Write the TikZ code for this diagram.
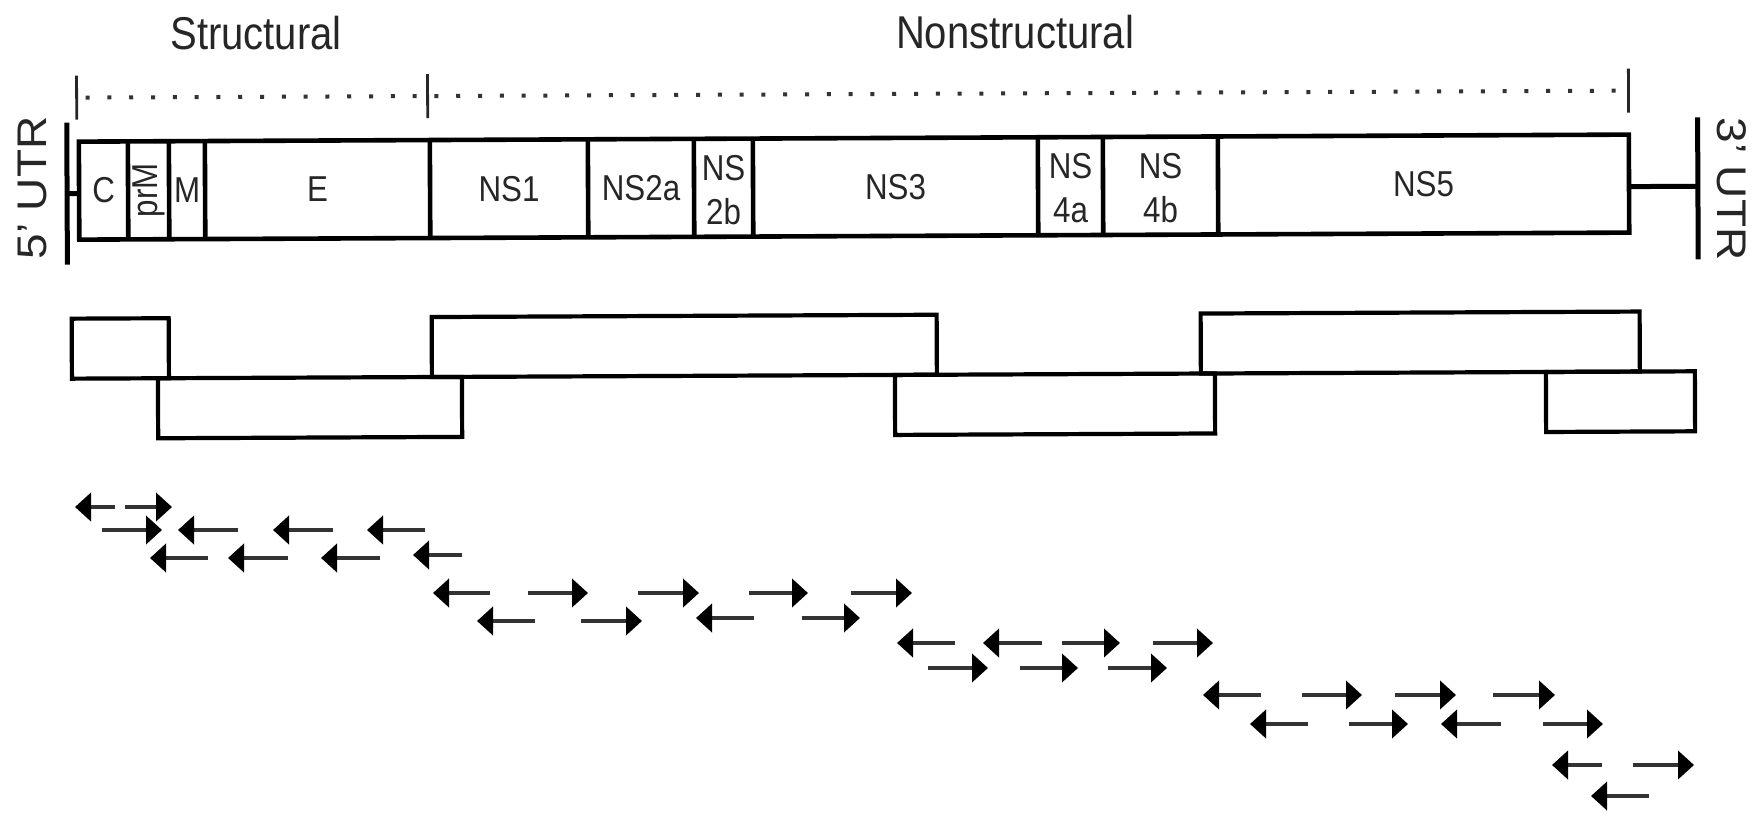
\documentclass[tikz,border=0pt]{standalone}
\usepackage{fontspec}
\setmainfont{Liberation Sans}[FakeStretch=0.87]
\newfontfamily\plainsans{Liberation Sans}
\usetikzlibrary{arrows.meta}
\tikzset{
  seg/.style={draw=black, line width=2.3pt},
  lbl/.style={font=\fontsize{18}{22}\selectfont, text=black!85, inner sep=0pt, align=center},
  big/.style={font=\fontsize{23}{26}\selectfont, text=black!85, inner sep=0pt},
  utr/.style={font=\plainsans\fontsize{23}{26}\selectfont, text=black!85, inner sep=0pt},
  utrbar/.style={draw=black, line width=2.5pt},
  orf/.style={draw=black, line width=2.1pt},
  prl/.style={line width=2pt, draw=black!80, -{Triangle[length=8pt,width=14pt,color=black]}},
  tickline/.style={draw=black!85, line width=1.4pt},
  dotline/.style={draw=black!80, line width=2pt, dash pattern=on 2pt off 8.9pt, dash phase=-4.5pt},
}
\begin{document}
\begin{tikzpicture}[x=0.5pt,y=-0.5pt]
\useasboundingbox (0,0) rectangle (1763,813);
\begin{scope}[rotate around={0.26:(880,400)}]
  % header
  \coordinate (tL) at (78,94);
  \coordinate (tM) at (429,94);
  \coordinate (tR) at (1630,94);
  \draw[dotline] (tL) -- (tR);
  \draw[tickline] ([yshift=11pt]tL) -- ([yshift=-11pt]tL);
  \draw[tickline] ([yshift=11pt]tM) -- ([yshift=-11pt]tM);
  \draw[tickline] ([yshift=11pt]tR) -- ([yshift=-11pt]tR);
  % genome box
  \draw[seg] (80,138) rectangle (1630,236);
  \foreach \x in {129,170,206,431,589,695,754,1039,1104,1219}
    \draw[seg] (\x,138) -- (\x,236);
  \node[lbl] (C) at (104.5,187) {C};
  \node[lbl, rotate=90] (prM) at (149.5,187) {prM};
  \node[lbl] (M) at (188,187) {M};
  \node[lbl] (E) at (318.5,187) {E};
  \node[lbl] (NS1) at (510,187) {NS1};
  \node[lbl] (NS2a) at (642,187) {NS2a};
  \node[lbl] (NS2b) at (724.5,189) {NS\\2b};
  \node[lbl] (NS3) at (896.5,187) {NS3};
  \node[lbl] (NS4a) at (1071.5,189) {NS\\4a};
  \node[lbl] (NS4b) at (1161.5,189) {NS\\4b};
  \node[lbl] (NS5) at (1424.5,187) {NS5};
  % UTRs
  \coordinate (u5a) at (68,119);
  \coordinate (u5b) at (68,261);
  \coordinate (u5s) at (68,190);
  \coordinate (b5s) at (80,190);
  \draw[utrbar] (u5a) -- (u5b);
  \draw[utrbar] (u5s) -- (b5s);
  \coordinate (u3a) at (1699,121);
  \coordinate (u3b) at (1699,263);
  \coordinate (u3s) at (1699,190);
  \coordinate (b3s) at (1630,190);
  \draw[utrbar] (u3a) -- (u3b);
  \draw[utrbar] (b3s) -- (u3s);
  % ORF blocks
  \draw[orf] (72,315) rectangle (169,375);
  \draw[orf] (432,315) rectangle (937,375);
  \draw[orf] (1201,315) rectangle (1640,375);
  \draw[orf] (158,375) rectangle (462,435);
  \draw[orf] (895,375) rectangle (1215,435);
  \draw[orf] (1546,375) rectangle (1695,435);
\end{scope}
\node[big] (structural) at (256,33) {Structural};
\node[big] (nonstructural) at (1015,32) {Nonstructural};
\node[utr, rotate=90] (utr5) at (32,188) {\scalebox{1}[0.9]{5’ UTR}};
\node[utr, rotate=-90] (utr3) at (1732,189) {\scalebox{1}[0.9]{3’ UTR}};
% primer arrows: tail / tip / y
\foreach \a/\b/\y in {
  115/75/507, 125/172/507,
  102/162/530, 238/178/530, 333/273/530, 425/367/530,
  208/150/558, 288/228/558, 380/321/558, 462/413/555,
  490/433/593, 528/588/593, 638/699/593, 749/808/593, 851/912/593,
  535/477/621, 581/642/621, 754/696/618, 802/860/618,
  955/897/643, 1042/983/643, 1062/1120/643, 1153/1213/643,
  928/988/668, 1020/1078/668, 1108/1167/668,
  1261/1203/695, 1302/1362/695, 1395/1456/695, 1493/1555/695,
  1308/1250/724, 1349/1408/724, 1501/1441/724, 1543/1603/724,
  1602/1552/765, 1633/1694/765,
  1649/1591/796}
  \draw[prl] (\a,\y) -- (\b,\y);
\end{tikzpicture}
\end{document}
